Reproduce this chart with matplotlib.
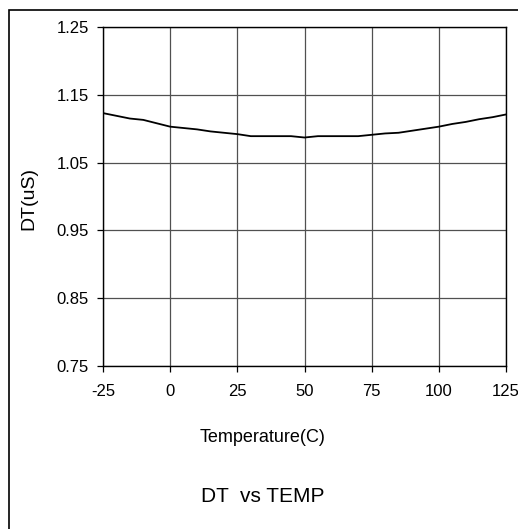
import matplotlib.pyplot as plt
from matplotlib.patches import Rectangle

plt.rcParams['font.family'] = ['Liberation Sans', 'DejaVu Sans']
plt.rcParams['axes.unicode_minus'] = False

temp = [-25, -20, -15, -10, -5, 0, 5, 10, 15, 20, 25, 30, 35, 40, 45, 50,
        55, 60, 65, 70, 75, 80, 85, 90, 95, 100, 105, 110, 115, 120, 125]
dt = [1.123, 1.119, 1.115, 1.113, 1.108, 1.103, 1.101, 1.099, 1.096, 1.094,
      1.092, 1.089, 1.089, 1.089, 1.089, 1.087, 1.089, 1.089, 1.089, 1.089,
      1.091, 1.093, 1.094, 1.097, 1.100, 1.103, 1.107, 1.110, 1.114, 1.117,
      1.121]
xticks = [-25, 0, 25, 50, 75, 100, 125]
yticks = [0.75, 0.85, 0.95, 1.05, 1.15, 1.25]

fig = plt.figure(figsize=(5.18, 5.29), dpi=100)
W, H = 518, 529
ax = fig.add_axes([103 / W, 1 - 366 / H, (506 - 103) / W, (366 - 27) / H])

ax.plot(temp, dt, color='black', lw=1.3)
ax.set_xlim(-25, 125)
ax.set_ylim(0.75, 1.25)
ax.set_xticks(xticks)
ax.set_yticks(yticks)
ax.set_yticklabels(['%.2f' % v for v in yticks])
ax.grid(True, color='#505050', lw=0.9)
ax.tick_params(direction='out', length=4, width=0.9, labelsize=12)
ax.tick_params(axis='x', pad=9)
ax.tick_params(axis='y', pad=6)
for s in ax.spines.values():
    s.set_linewidth(1.0)
ax.set_xlabel('Temperature(C)', fontsize=13, va='center')
ax.set_ylabel('DT(uS)', fontsize=14, va='center')
ax.xaxis.set_label_coords((263 - 103) / 403, (366 - 437) / 339)
ax.yaxis.set_label_coords((29 - 103) / 403, (366 - 198) / 339)

fig.text(263 / W, 1 - 496 / H, 'DT  vs TEMP', fontsize=15, ha='center', va='center')

# outer frame
fig.patches.append(Rectangle((8.5 / W, -0.1), 1.2, 1 - 10 / H + 0.1,
                             transform=fig.transFigure, fill=False,
                             edgecolor='black', lw=1.2))

fig.savefig('out.png', dpi=100)
